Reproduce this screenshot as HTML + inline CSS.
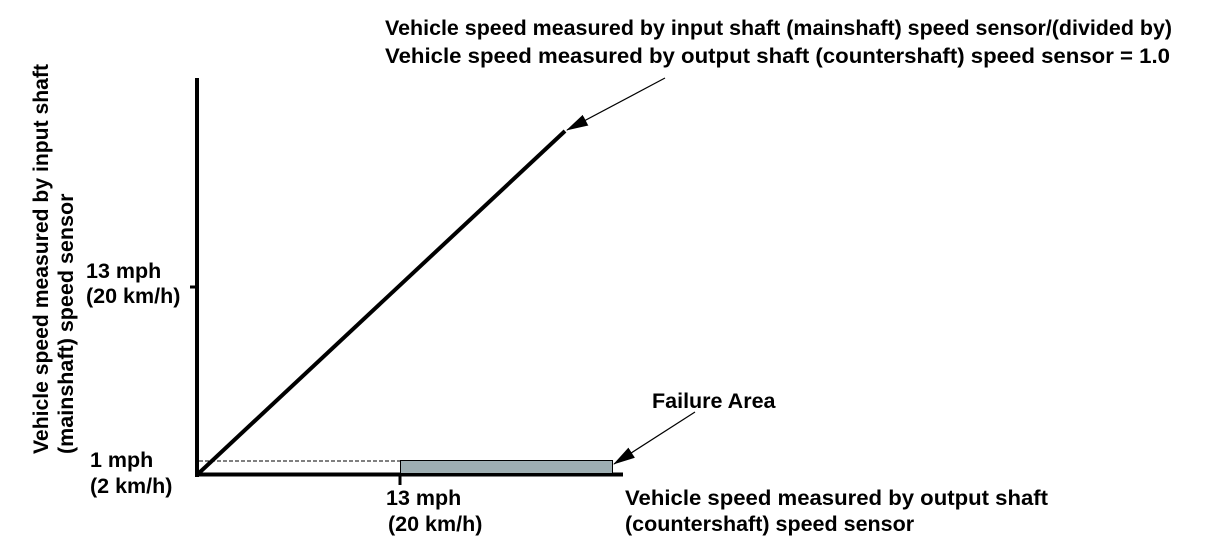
<!DOCTYPE html>
<html><head><style>body{margin:0;background:#fff}svg{display:block}text{font-family:"Liberation Sans",Arial,sans-serif;font-weight:bold;font-size:21.5px;fill:#000}</style></head>
<body>
<svg width="1208" height="552" viewBox="0 0 1208 552">
<defs><marker id="b" markerWidth="22" markerHeight="14" refX="21" refY="7" orient="auto" markerUnits="userSpaceOnUse"><path d="M0,1 L22,7 L0,13 z" fill="#000"/></marker></defs>
<line x1="197" y1="78" x2="197" y2="477" stroke="#000" stroke-width="4"/>
<line x1="195" y1="474.5" x2="623" y2="474.5" stroke="#000" stroke-width="4"/>
<line x1="190" y1="287" x2="197" y2="287" stroke="#000" stroke-width="3"/>
<line x1="400" y1="474" x2="400" y2="485" stroke="#000" stroke-width="3"/>
<line x1="199" y1="461" x2="400" y2="461" stroke="#000" stroke-width="1" stroke-dasharray="4,2"/>
<rect x="400.5" y="460.5" width="212" height="13" fill="#9eaeb2" stroke="#000" stroke-width="1"/>
<line x1="199" y1="473" x2="565" y2="131" stroke="#000" stroke-width="4"/>
<line x1="665" y1="78" x2="567" y2="130" stroke="#000" stroke-width="1.2" marker-end="url(#b)"/>
<line x1="695" y1="412" x2="614" y2="464" stroke="#000" stroke-width="1.2" marker-end="url(#b)"/>
<text x="385" y="35" textLength="787" lengthAdjust="spacingAndGlyphs">Vehicle speed measured by input shaft (mainshaft) speed sensor/(divided by)</text>
<text x="385" y="63" textLength="785" lengthAdjust="spacingAndGlyphs">Vehicle speed measured by output shaft (countershaft) speed sensor = 1.0</text>
<text x="652" y="408">Failure Area</text>
<text x="86" y="278">13 mph</text>
<text x="86" y="303">(20 km/h)</text>
<text x="90" y="467">1 mph</text>
<text x="90" y="493">(2 km/h)</text>
<text x="386" y="505">13 mph</text>
<text x="388" y="531">(20 km/h)</text>
<text x="625" y="505" textLength="423" lengthAdjust="spacingAndGlyphs">Vehicle speed measured by output shaft</text>
<text x="625" y="531">(countershaft) speed sensor</text>
<text transform="translate(48,454) rotate(-90)" textLength="390" lengthAdjust="spacingAndGlyphs">Vehicle speed measured by input shaft</text>
<text transform="translate(73,454) rotate(-90)">(mainshaft) speed sensor</text>
</svg>
</body></html>
